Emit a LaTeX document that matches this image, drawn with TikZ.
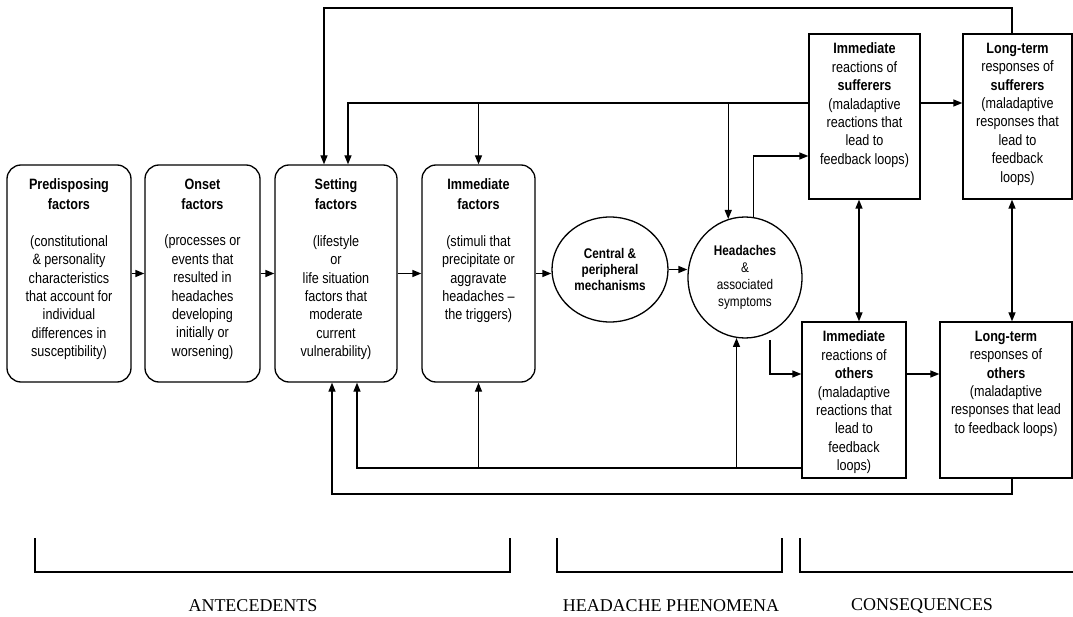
\documentclass[tikz,border=0pt]{standalone}
\usepackage{fontspec}
\setmainfont{Liberation Sans}[FakeStretch=0.84]
\newfontfamily\capsfont{Liberation Serif}
\usepackage{tikz}
\usetikzlibrary{arrows.meta,shapes.geometric}

\tikzset{
	rbox/.style={draw, rounded corners=14pt, inner sep=0pt},
	sbox/.style={draw, inner sep=0pt},
	blob/.style={draw, ellipse, inner sep=0pt, align=center},
	txt/.style={anchor=north, align=center, inner sep=0pt, font=\fontsize{15}{18.4}\selectfont},
}

\begin{document}
\begin{tikzpicture}[x=1pt, y=-1pt, line width=1.3pt, >={Triangle[length=9pt,width=7pt]}]
\useasboundingbox (0,0) rectangle (1073,617);

% antecedents
\node[rbox, minimum width=124pt, minimum height=217pt] (pre) at (69,273.5) {};
\node[rbox, minimum width=115pt, minimum height=217pt] (ons) at (202.5,273.5) {};
\node[rbox, minimum width=122pt, minimum height=217pt] (set) at (336,273.5) {};
\node[rbox, minimum width=113pt, minimum height=217pt] (imf) at (478.5,273.5) {};
\node[txt, yshift=-14pt] (pret) at (pre.north) {\textbf{Predisposing}\\[1.6pt]\textbf{factors}\\[18pt](constitutional\\\& personality\\characteristics\\that account for\\individual\\differences in\\susceptibility)};
\node[txt, yshift=-14pt] (onst) at (ons.north) {\textbf{Onset}\\[1.6pt]\textbf{factors}\\[18pt](processes or\\events that\\resulted in\\headaches\\developing\\initially or\\worsening)};
\node[txt, yshift=-14pt] (sett) at (set.north) {\textbf{Setting}\\[1.6pt]\textbf{factors}\\[18pt](lifestyle\\or\\life situation\\factors that\\moderate\\current\\vulnerability)};
\node[txt, yshift=-14pt] (imft) at (imf.north) {\textbf{Immediate}\\[1.6pt]\textbf{factors}\\[18pt](stimuli that\\precipitate or\\aggravate\\headaches –\\the triggers)};

% phenomena
\node[blob, minimum width=116pt, minimum height=105pt, font=\fontsize{14}{16}\selectfont] (cen) at (610,269.5) {\textbf{Central \&}\\\textbf{peripheral}\\\textbf{mechanisms}};
\node[blob, minimum width=114pt, minimum height=121pt, font=\fontsize{14}{17}\selectfont] (hea) at (745,277.5) {\textbf{Headaches}\\\&\\associated\\symptoms};

% consequences
\node[sbox, minimum width=111pt, minimum height=165pt] (ims) at (864.5,116.5) {};
\node[sbox, minimum width=109pt, minimum height=165pt] (lts) at (1017.5,116.5) {};
\node[sbox, minimum width=104pt, minimum height=156pt] (imo) at (854,400) {};
\node[sbox, minimum width=132pt, minimum height=156pt] (lto) at (1006,400) {};
\node[txt, yshift=-9pt] (imst) at (ims.north) {\textbf{Immediate}\\reactions of\\\textbf{sufferers}\\(maladaptive\\reactions that\\lead to\\feedback loops)};
\node[txt, yshift=-9pt] (ltst) at (lts.north) {\textbf{Long-term}\\responses of\\\textbf{sufferers}\\(maladaptive\\responses that\\lead to\\feedback\\loops)};
\node[txt, yshift=-9pt] (imot) at (imo.north) {\textbf{Immediate}\\reactions of\\\textbf{others}\\(maladaptive\\reactions that\\lead to\\feedback\\loops)};
\node[txt, yshift=-9pt] (ltot) at (lto.north) {\textbf{Long-term}\\responses of\\\textbf{others}\\(maladaptive\\responses that lead\\to feedback loops)};

% forward chain
\draw[->] (pre.east) -- (ons.west);
\draw[->] (ons.east) -- (set.west);
\draw[->] (set.east) -- (imf.west);
\draw[->] (imf.east) -- (imf.east -| cen.west);
\draw[->] (cen.east) -- (cen.east -| hea.west);
\draw[->] ([yshift=13.5pt]ims.east) -- ([yshift=13.5pt]ims.east -| lts.west);
\draw[->] ([yshift=26pt]imo.east) -- ([yshift=26pt]imo.east -| lto.west);
\draw[<->] ([xshift=-5.5pt]ims.south) -- ([xshift=5pt]imo.north);
\draw[<->] ([xshift=-5.5pt]lts.south) -- ([xshift=6pt]lto.north);

% feedback loops
\coordinate (top) at (0,8);
\coordinate (upper) at (0,103);
\coordinate (low1) at (0,468);
\coordinate (low2) at (0,494);
\coordinate (setA) at ([xshift=-12pt]set.north);
\coordinate (setB) at ([xshift=12pt]set.north);
\coordinate (setC) at ([xshift=-4pt]set.south);
\coordinate (setD) at ([xshift=21pt]set.south);
\coordinate (ltsout) at ([xshift=-5.5pt]lts.north);
\coordinate (ltoout) at ([xshift=6pt]lto.south);
\coordinate (heaout) at ([shift={(25pt,-62.5pt)}]hea.center);

\draw[->] (ltsout) -- (ltsout |- top) -| (setA);
\draw[->] (ims.west |- upper) -| (setB);
\draw[->] (imf.north |- upper) -- (imf.north);
\draw[->] (hea.106 |- upper) -- (hea.106);
\draw[->] (hea.82) |- ([yshift=-39.5pt]ims.west);
\draw[->] (heaout) |- ([yshift=26pt]imo.west);
\draw[->] (imo.west |- low1) -| (setD);
\draw[->] (imf.south |- low1) -- (imf.south);
\draw[->] (hea.262 |- low1) -- (hea.262);
\draw[->] (ltoout) -- (ltoout |- low2) -| (setC);

% brackets
\foreach \a/\b/\m/\t/\n in {35/510/253/ANTECEDENTS/ant, 557/782/671/HEADACHE PHENOMENA/phe}{
	\draw[line width=2.4pt] (\a,538) |- (\b,572) -- (\b,538);
	\node[font=\capsfont\fontsize{18}{20}\selectfont] (lab\n) at (\m,606) {\t};
}
\draw[line width=2.4pt] (800,538) |- (1073,572);
\node[font=\capsfont\fontsize{18}{20}\selectfont] (labcon) at (922,606) {CONSEQUENCES};
\end{tikzpicture}
\end{document}
